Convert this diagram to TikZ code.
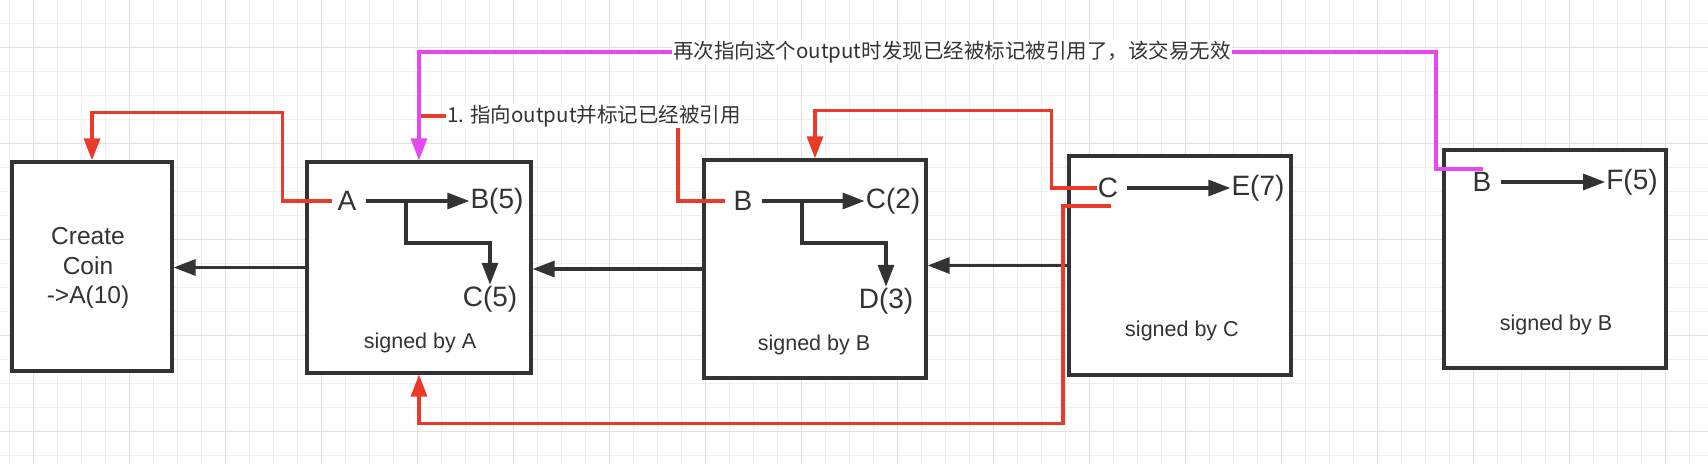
\documentclass[tikz,border=0pt]{standalone}
\usepackage{fontspec}
\setmainfont{Liberation Sans}
\newfontfamily\cjk{Noto Sans CJK SC}
\usepackage{tikz}
\usetikzlibrary{arrows.meta,calc}

\definecolor{ink}{RGB}{51,51,51}
\definecolor{linkred}{RGB}{236,58,42}
\definecolor{linkpink}{RGB}{232,72,240}
\definecolor{gridlight}{RGB}{240,240,240}
\definecolor{griddark}{RGB}{225,225,225}

\tikzset{
  txbox/.style={draw=ink, line width=3.2pt, fill=white, rectangle, inner sep=0pt},
  addr/.style={text=ink, font=\fontsize{28}{34}\selectfont, inner sep=1pt},
  sign/.style={text=ink, font=\fontsize{21.5}{26}\selectfont, inner sep=0pt},
  note/.style={text=ink, font=\cjk\fontsize{20.5}{24}\selectfont, fill=white, inner sep=1pt},
  flow/.style={draw=ink, line width=3.2pt, -{Triangle[length=22pt,width=16pt]}},
  redflow/.style={draw=linkred, line width=3.2pt, -{Triangle[length=22pt,width=16pt]}},
  redline/.style={draw=linkred, line width=3.2pt},
  pinkflow/.style={draw=linkpink, line width=3.2pt, -{Triangle[length=22pt,width=16pt]}},
  pinkline/.style={draw=linkpink, line width=3.2pt},
}

\begin{document}
\begin{tikzpicture}[x=1pt,y=-1pt]
\newcommand{\gstep}{24}

% Page and background grid
\useasboundingbox (0,0) rectangle (1708,464);
\fill[white] (0,0) rectangle (1708,464);
\foreach \i in {0,...,71} \draw[gridlight, line width=1pt] ({9.7+\gstep*\i},0) -- ++(0,464);
\foreach \j in {0,...,18} \draw[gridlight, line width=1pt] (0,{23.3+\gstep*\j}) -- ++(1708,0);
\foreach \i in {0,...,17} \draw[griddark, line width=1.3pt] ({33.7+4*\gstep*\i},0) -- ++(0,464);
\foreach \j in {0,...,4} \draw[griddark, line width=1.3pt] (0,{47.3+4*\gstep*\j}) -- ++(1708,0);

% The transaction boxes
\node[txbox, minimum width=160pt, minimum height=209pt] (coin) at (92,266.5) {};
\node[txbox, minimum width=224pt, minimum height=211pt] (txA) at (419,267.5) {};
\node[txbox, minimum width=222pt, minimum height=218pt] (txB) at (815,269) {};
\node[txbox, minimum width=222pt, minimum height=219pt] (txC) at (1180,265.5) {};
\node[txbox, minimum width=222pt, minimum height=218pt] (txD) at (1555,259) {};

\node[text=ink, align=center, font=\fontsize{24.5}{29.5}\selectfont] (coinTxt) at (88,268) {Create\\Coin\\->A(10)};

% Inputs and outputs inside the boxes
\node[addr] (inA) at (347,201) {A};
\node[addr] (outAB) at (497,201) {B(5)};
\node[addr] (outAC) at (490,299) {C(5)};
\node[sign] (sigA) at (420,343) {signed by A};

\node[addr] (inB) at (743,201) {B};
\node[addr] (outBC) at (893,201) {C(2)};
\node[addr] (outBD) at (886,301) {D(3)};
\node[sign] (sigB) at (814,345) {signed by B};

\node[addr] (inC) at (1108,188) {C};
\node[addr] (outCE) at (1258,188) {E(7)};
\node[sign] (sigC) at (1182,331) {signed by C};

\node[addr] (inD) at (1482,182) {B};
\node[addr] (outDF) at (1632,182) {F(5)};
\node[sign] (sigD) at (1556,325) {signed by B};

\coordinate (splitA) at (406,201);
\coordinate (splitB) at (802,201);
\draw[flow, shorten <=8pt] (inA) -- (outAB);
\draw[flow] (splitA) -- ++(0,42) -| (outAC.north);
\draw[flow, shorten <=8pt] (inB) -- (outBC);
\draw[flow] (splitB) -- ++(0,42) -| (outBD.north);
\draw[flow, shorten <=8pt] (inC) -- (outCE);
\draw[flow, shorten <=8pt] (inD) -- (outDF);

% Chain of transactions
\draw[flow] (txA.west) -- (txA.west -| coin.east);
\draw[flow] (txB.west) -- (txB.west -| txA.east);
\draw[flow] (txC.west) -- (txC.west -| txB.east);

% Notes
\node[note, anchor=west] (note1) at (446,116) {1. 指向output并标记已经被引用};
\node[note, anchor=west] (note2) at (672,52) {再次指向这个output时发现已经被标记被引用了，该交易无效};

% Red links: an input points to the output it spends
\draw[redflow, shorten <=4pt] (inA.west) -- ++(-54,0) |- ([yshift=48pt]coin.north) -- (coin.north);
\draw[redline] (txA.north |- note1.west) -- (note1.west);
\draw[redline, shorten >=7pt] ([xshift=232pt]note1.south west) |- (inB.west);
\draw[redflow] (inC.west) -- ++(-45,0) |- ([yshift=48pt]txB.north) -- (txB.north);
\coordinate (spendC) at (1111,206);
\draw[redflow] (spendC) -- ++(-48,0) |- ([yshift=-49pt]txA.south) -- (txA.south);

% Pink link: the same output pointed to again
\coordinate (spendD) at (1483,169);
\draw[pinkline] (spendD) -- ++(-47,0) |- (note2.east);
\draw[pinkflow] (note2.west) -| (txA.north);

\end{tikzpicture}
\end{document}
